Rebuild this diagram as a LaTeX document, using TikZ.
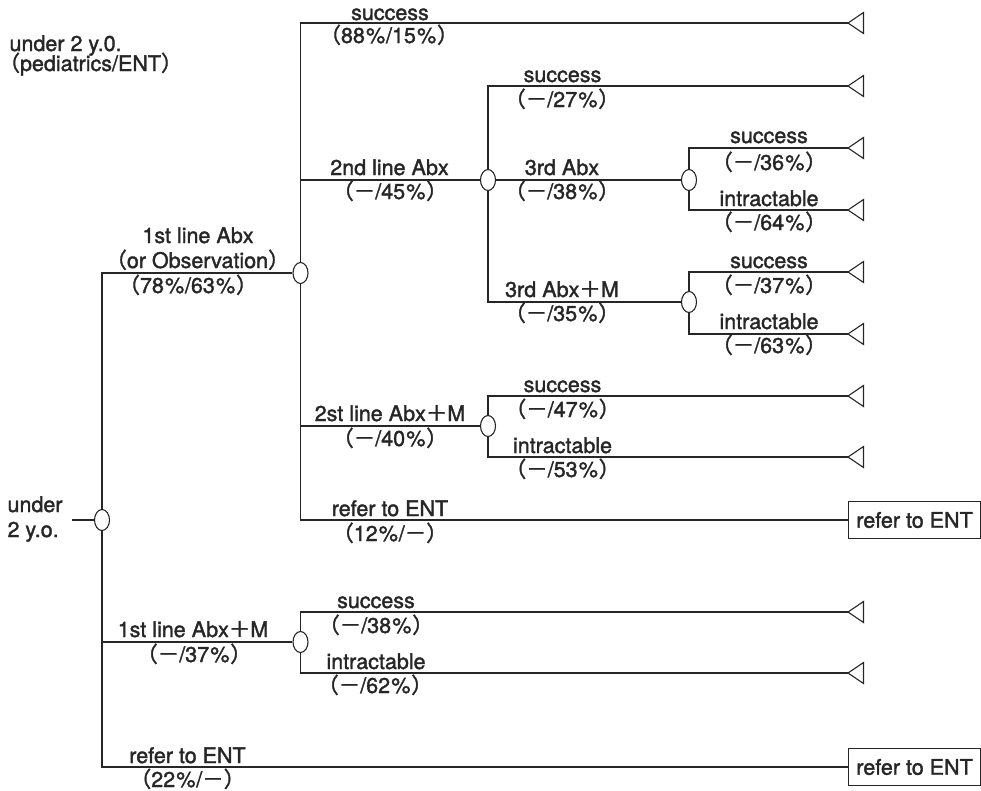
\documentclass[tikz,border=0pt]{standalone}
\usepackage{fontspec}
\setmainfont[FakeBold=1.6]{TeX Gyre Heros}
\newfontfamily\cjk[FakeBold=1.6]{Noto Sans CJK JP}
\usetikzlibrary{shapes.geometric}
\newcommand{\LP}{{\cjk （}}
\newcommand{\RP}{{\cjk ）}}
\newcommand{\MN}{{\cjk －}}
\newcommand{\PL}{{\cjk ＋}}
\newcommand{\PC}{\kern1.2pt\%\kern0.8pt}
\begin{document}
\begin{tikzpicture}[x=1pt,y=-1pt,
  line width=1.1pt, color={black!85},
  chance/.style={draw, ellipse, minimum width=15pt, minimum height=21pt, inner sep=0pt, fill=white},
  endbox/.style={draw, anchor=west, minimum width=132pt, minimum height=37pt, inner sep=0pt, font=\fontsize{21.5}{25}\selectfont},
  lbl/.style={anchor=base, inner sep=0pt, font=\fontsize{21.5}{25}\selectfont},
  lblw/.style={anchor=base west, inner sep=0pt, font=\fontsize{21.5}{25}\selectfont},
]
\useasboundingbox (0,0) rectangle (981,790);

% nodes
\coordinate (in) at (72,520);
\node[chance] (r) at (102,520) {};
\node[chance] (a) at (300.5,273) {};
\node[chance] (b) at (300.5,642) {};
\node[endbox] (e2) at (848,767) {refer to ENT};
\node[chance] (c) at (488,180) {};
\node[chance] (d) at (488,426) {};
\node[endbox] (e1) at (848,520) {refer to ENT};
\node[chance] (f) at (689,180) {};
\node[chance] (g) at (689,302) {};
\coordinate (t1) at (848,23);
\coordinate (t2) at (848,86);
\coordinate (t3) at (848,148);
\coordinate (t4) at (848,210);
\coordinate (t5) at (848,272);
\coordinate (t6) at (848,334);
\coordinate (t7) at (848,396);
\coordinate (t8) at (848,457);
\coordinate (t9) at (848,612);
\coordinate (t10) at (848,673);
\foreach \t in {t1,t2,t3,t4,t5,t6,t7,t8,t9,t10}
  \draw (\t) -- ++(15.5,-10.5) -- ++(0,21) -- cycle;

% connectors
\draw (in) -- (r.west);
\draw (r.north) |- (a.west);
\draw (r.south) |- (b.west);
\draw (r.south) |- (e2.west);
\draw (a.north) |- (t1);
\draw (a.north) |- (c.west);
\draw (a.south) |- (d.west);
\draw (a.south) |- (e1.west);
\draw (c.north) |- (t2);
\draw (c.east) -- (f.west);
\draw (c.south) |- (g.west);
\draw (f.north) |- (t3);
\draw (f.south) |- (t4);
\draw (g.north) |- (t5);
\draw (g.south) |- (t6);
\draw (d.north) |- (t7);
\draw (d.south) |- (t8);
\draw (b.north) |- (t9);
\draw (b.south) |- (t10);

% labels
\node[lblw] (l0) at (9,51) {under 2 y.0.};
\node[lblw] (l0b) at (-2,71) {\LP pediatrics/ENT\RP};
\node[lblw] (l1) at (7,512) {under};
\node[lblw] (l2) at (7,537) {2 y.o.};

\node[lbl] at (198,243) {1st line Abx};
\node[lbl] at (197.5,268) {\LP or Observation\RP};
\node[lbl] at (188,293) {\LP 78\PC/63\PC\RP};

\node[lbl] at (390,20) {success};
\node[lbl] at (389,43) {\LP 88\PC/15\PC\RP};
\node[lbl] at (389.5,175) {2nd line Abx};
\node[lbl] at (390,199) {\LP\MN/45\PC\RP};

\node[lbl] at (562.5,82) {success};
\node[lbl] at (562,107) {\LP\MN/27\PC\RP};
\node[lbl] at (562,175) {3rd Abx};
\node[lbl] at (562,199) {\LP\MN/38\PC\RP};
\node[lbl] at (562,297) {3rd Abx\PL M};
\node[lbl] at (562,321) {\LP\MN/35\PC\RP};

\node[lbl] at (769,143) {success};
\node[lbl] at (769,170) {\LP\MN/36\PC\RP};
\node[lbl] at (769,206) {intractable};
\node[lbl] at (769,230) {\LP\MN/64\PC\RP};
\node[lbl] at (769,268) {success};
\node[lbl] at (769,293) {\LP\MN/37\PC\RP};
\node[lbl] at (769,329) {intractable};
\node[lbl] at (769,353) {\LP\MN/63\PC\RP};

\node[lbl] at (390,421) {2st line Abx\PL M};
\node[lbl] at (390,446) {\LP\MN/40\PC\RP};
\node[lbl] at (562.5,392) {success};
\node[lbl] at (562.5,417) {\LP\MN/47\PC\RP};
\node[lbl] at (562.5,453) {intractable};
\node[lbl] at (562.5,477) {\LP\MN/53\PC\RP};

\node[lbl] at (390,516) {refer to ENT};
\node[lbl] at (390,541) {\LP 12\PC/\MN\RP};

\node[lbl] at (193,637) {1st line Abx\PL M};
\node[lbl] at (194,662) {\LP\MN/37\PC\RP};
\node[lbl] at (376,608) {success};
\node[lbl] at (376,633) {\LP\MN/38\PC\RP};
\node[lbl] at (376,669) {intractable};
\node[lbl] at (375,693) {\LP\MN/62\PC\RP};

\node[lbl] at (187.5,763) {refer to ENT};
\node[lbl] at (187.5,787) {\LP 22\PC/\MN\RP};
\end{tikzpicture}
\end{document}
